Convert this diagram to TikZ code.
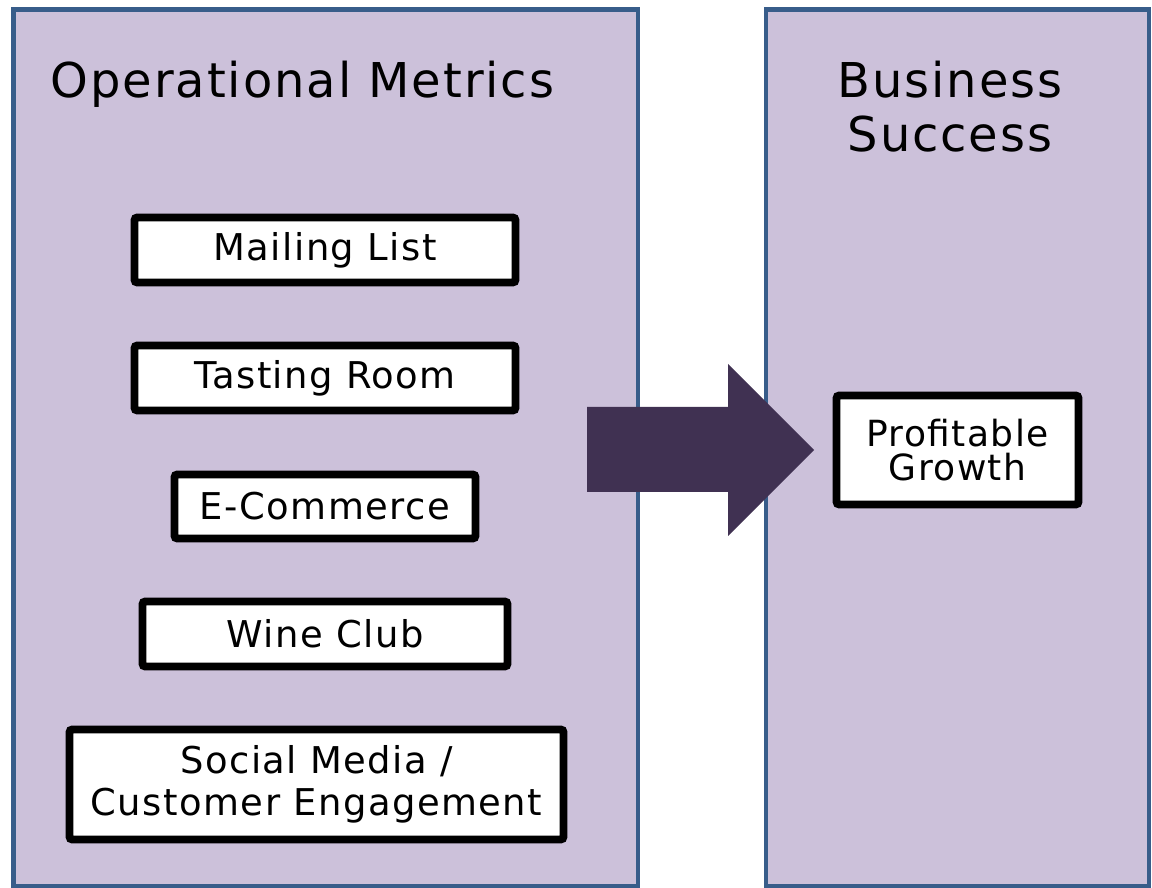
\documentclass[tikz,border=0pt]{standalone}
\usepackage{fontspec}
\setmainfont{DejaVu Sans}[LetterSpace=4]
\definecolor{panelfill}{HTML}{CCC1DA}
\definecolor{paneledge}{HTML}{385D8A}
\definecolor{arrowfill}{HTML}{403152}

\begin{document}
\begin{tikzpicture}[
  panel/.style={fill=panelfill, draw=paneledge, line width=2.3pt},
  heading/.style={font=\fontsize{27.3}{31.2}\selectfont, align=center, anchor=base},
  metric/.style={draw=black, fill=white, line width=4.4pt, rounded corners=1.5pt,
    inner sep=0pt, align=center, font=\fontsize{21}{24}\selectfont}
]

\useasboundingbox (0,0) rectangle (23.04,17.76);

% Draw panels
\draw[panel] (0.27,0.04) rectangle (12.76,17.57);
\draw[panel] (15.32,0.04) rectangle (22.98,17.57);

% Panel headings
\node[heading] (opsTitle) at (6.05,15.8) {Operational Metrics};
\node[heading] (bizTitle) at (19.0,14.72) {Business\\Success};

% Draw big arrow
\fill[arrowfill] (11.74,9.62) -- (14.56,9.62) -- (14.56,10.48) -- (16.28,8.76)
  -- (14.56,7.04) -- (14.56,7.92) -- (11.74,7.92) -- cycle;

% Metric boxes
\node[metric, minimum width=7.62cm, minimum height=1.3cm] (mailing) at (6.5,12.76) {Mailing List};
\node[metric, minimum width=7.62cm, minimum height=1.3cm] (tasting) at (6.5,10.2) {Tasting Room};
\node[metric, minimum width=6.02cm, minimum height=1.28cm] (ecommerce) at (6.5,7.63) {E-Commerce};
\node[metric, minimum width=7.3cm, minimum height=1.3cm] (wineclub) at (6.5,5.08) {Wine Club};
\node[metric, minimum width=9.88cm, minimum height=2.2cm] (social) at (6.33,2.07) {Social Media /\\Customer Engagement};

% Goal box
\node[metric, minimum width=4.84cm, minimum height=2.18cm, font=\fontsize{20.5}{19.5}\selectfont] (growth) at (19.15,8.76) {Profitable\\Growth};

\end{tikzpicture}
\end{document}
